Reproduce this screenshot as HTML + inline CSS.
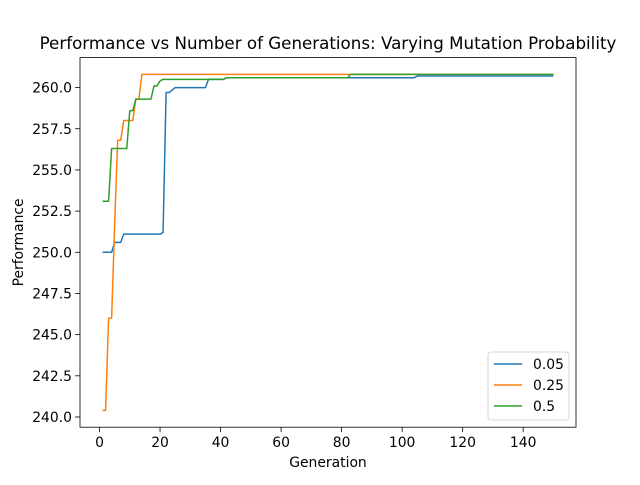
<!DOCTYPE html>
<html><head><meta charset="utf-8"><style>
body{margin:0;background:#fff}
svg text{font-family:"DejaVu Sans","Liberation Sans",sans-serif;fill:#000}
</style></head><body>
<svg id="chart" width="640" height="480"></svg>
<script>
const gens05=[1,4,5,7,8,20,21,22,23,25,35,36,41,42,104,105,150];
const vals05=[250.0,250.0,250.6,250.6,251.1,251.1,251.2,259.7,259.7,260.0,260.0,260.5,260.5,260.6,260.6,260.7,260.7];
const gens25=[1,2,3,4,5,6,7,8,11,12,13,14,150];
const vals25=[240.4,240.4,246.0,246.0,251.7,256.8,256.8,258.0,258.0,259.3,259.3,260.8,260.8];
const gens50=[1,3,4,9,10,11,12,17,18,19,20,21,41,42,82,83,150];
const vals50=[253.1,253.1,256.3,256.3,258.6,258.6,259.3,259.3,260.1,260.1,260.4,260.5,260.5,260.6,260.6,260.8,260.8];
const seriesNames=["0.05","0.25","0.5"];
const xTicks=[0,20,40,60,80,100,120,140];
const yTicks=[240.0,242.5,245.0,247.5,250.0,252.5,255.0,257.5,260.0];

const L=80,R=576,T=57.6,B=427.2;
const xmin=-6.45,xmax=157.45,ymin=239.38,ymax=261.82;
const xs=v=>L+(v-xmin)/(xmax-xmin)*(R-L);
const ys=v=>B-(v-ymin)/(ymax-ymin)*(B-T);
const svg=document.getElementById('chart');
const NS='http://www.w3.org/2000/svg';
function mk(tag,attrs,parent){const e=document.createElementNS(NS,tag);for(const k in attrs)e.setAttribute(k,attrs[k]);(parent||svg).appendChild(e);return e;}

const colors=["#1f77b4","#ff7f0e","#2ca02c"];
const data=[[gens05,vals05],[gens25,vals25],[gens50,vals50]];
data.forEach((d,i)=>{
  const pts=d[0].map((g,j)=>xs(g).toFixed(2)+','+ys(d[1][j]).toFixed(2)).join(' ');
  const p=mk('polyline',{points:pts,fill:'none',stroke:colors[i],'stroke-width':1.5,'stroke-linejoin':'round'});
  
  
});

const frame=mk('rect',{x:L,y:T,width:R-L,height:B-T,fill:'none',stroke:'#000','stroke-width':0.8});



xTicks.forEach(t=>{
  const x=xs(t);
  mk('line',{x1:x,y1:B,x2:x,y2:B+4.9,stroke:'#000','stroke-width':0.8});
  const tx=mk('text',{x:x,y:B+20,'font-size':13.9,'text-anchor':'middle'});
  tx.textContent=t;
  
  
});
yTicks.forEach(t=>{
  const y=ys(t);
  mk('line',{x1:L-4.9,y1:y,x2:L,y2:y,stroke:'#000','stroke-width':0.8});
  const tx=mk('text',{x:L-8,y:y+5,'font-size':13.9,'text-anchor':'end'});
  tx.textContent=t.toFixed(1);
  
  
});

const title=mk('text',{x:(L+R)/2+0,y:49,'font-size':16.7,'text-anchor':'middle'});
title.textContent='Performance vs Number of Generations: Varying Mutation Probability';


const xl=mk('text',{x:(L+R)/2,y:467,'font-size':13.9,'text-anchor':'middle'});
xl.textContent='Generation';


const yl=mk('text',{x:0,y:0,'font-size':13.9,'text-anchor':'middle',transform:`translate(23,${(T+B)/2}) rotate(-90)`});
yl.textContent='Performance';



const lg=mk('g',{});


mk('rect',{x:488,y:352,width:81,height:68,rx:3,fill:'#fff',stroke:'#ccc','stroke-width':0.8},lg);
seriesNames.forEach((n,i)=>{
  const y=364+i*21;
  const ln=mk('line',{x1:494,y1:y,x2:522,y2:y,stroke:colors[i],'stroke-width':1.5},lg);
  
  
  const t=mk('text',{x:533,y:y+5,'font-size':13.9},lg);
  t.textContent=n;
  
  
});
</script>
</body></html>
